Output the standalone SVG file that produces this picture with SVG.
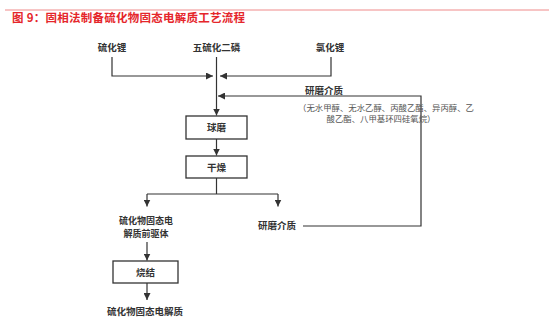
<svg xmlns="http://www.w3.org/2000/svg" width="554" height="335" viewBox="0 0 554 335">
<defs>
<style>
.t{font-family:"Noto Sans CJK SC","Liberation Sans",sans-serif;font-weight:bold;font-size:9.5px;fill:#333;text-anchor:middle}
.p{font-size:9px}
.s{font-family:"Noto Sans CJK SC","Liberation Sans",sans-serif;font-size:8.4px;fill:#555;text-anchor:middle}
.ln{fill:none;stroke:#333;stroke-width:1.2}
.bx{fill:#fff;stroke:#333;stroke-width:1.3}
</style>
<marker id="ah" viewBox="0 0 10 10" refX="10" refY="5" markerWidth="7" markerHeight="7" markerUnits="userSpaceOnUse" orient="auto">
<path d="M0,0 L10,5 L0,10 z" fill="#333"/>
</marker>
</defs>
<rect width="554" height="335" fill="#fff"/>
<line x1="5" y1="10" x2="549" y2="10" stroke="#ef8a8a" stroke-width="1"/>
<text x="12" y="22" font-family="Noto Sans CJK SC, Liberation Sans, sans-serif" font-weight="bold" font-size="11.5" fill="#e5262b" textLength="233">图 9：固相法制备硫化物固态电解质工艺流程</text>

<g id="connectors">
<polyline class="ln" points="112,57 112,76 213,76" marker-end="url(#ah)"/>
<polyline class="ln" points="331,57 331,76 220,76" marker-end="url(#ah)"/>
<line class="ln" x1="216.5" y1="57" x2="216.5" y2="115.5" marker-end="url(#ah)"/>
<polyline class="ln" points="303,226 421,226 421,96 218,96" marker-end="url(#ah)"/>
<line class="ln" x1="216.5" y1="139" x2="216.5" y2="155.5" marker-end="url(#ah)"/>
<line class="ln" x1="216.5" y1="178" x2="216.5" y2="194"/>
<line class="ln" x1="147" y1="194" x2="278" y2="194"/>
<line class="ln" x1="147" y1="194" x2="147" y2="206.5" marker-end="url(#ah)"/>
<line class="ln" x1="278" y1="194" x2="278" y2="206.5" marker-end="url(#ah)"/>
<line class="ln" x1="147" y1="242" x2="147" y2="260.5" marker-end="url(#ah)"/>
<line class="ln" x1="147" y1="283" x2="147" y2="300" marker-end="url(#ah)"/>
</g>

<g id="n-li2s"><text class="t" x="112" y="51">硫化锂</text></g>
<g id="n-p2s5"><text class="t" x="216.5" y="51">五硫化二磷</text></g>
<g id="n-licl"><text class="t" x="330" y="51">氯化锂</text></g>
<g id="n-medium-in">
<rect x="304" y="86" width="40" height="9" fill="#fff"/>
<text class="t" x="324" y="94">研磨介质</text>
<text class="s" x="386" y="110.5">（无水甲醇、无水乙醇、丙酸乙酯、异丙醇、乙</text>
<text class="s" x="381" y="122">酸乙酯、八甲基环四硅氧烷）</text>
</g>
<g id="n-ballmill"><rect class="bx" x="186" y="116" width="61" height="23"/><text class="t" x="216.5" y="131">球磨</text></g>
<g id="n-dry"><rect class="bx" x="186" y="156" width="61" height="22"/><text class="t" x="216.5" y="170.5">干燥</text></g>
<g id="n-precursor"><text class="t p" x="146" y="224">硫化物固态电</text><text class="t p" x="146" y="237">解质前驱体</text></g>
<g id="n-medium-out"><text class="t" x="277" y="229">研磨介质</text></g>
<g id="n-sinter"><rect class="bx" x="113" y="261" width="65" height="22"/><text class="t" x="145.5" y="275.5">烧结</text></g>
<g id="n-product"><text class="t" x="145" y="315">硫化物固态电解质</text></g>
</svg>
